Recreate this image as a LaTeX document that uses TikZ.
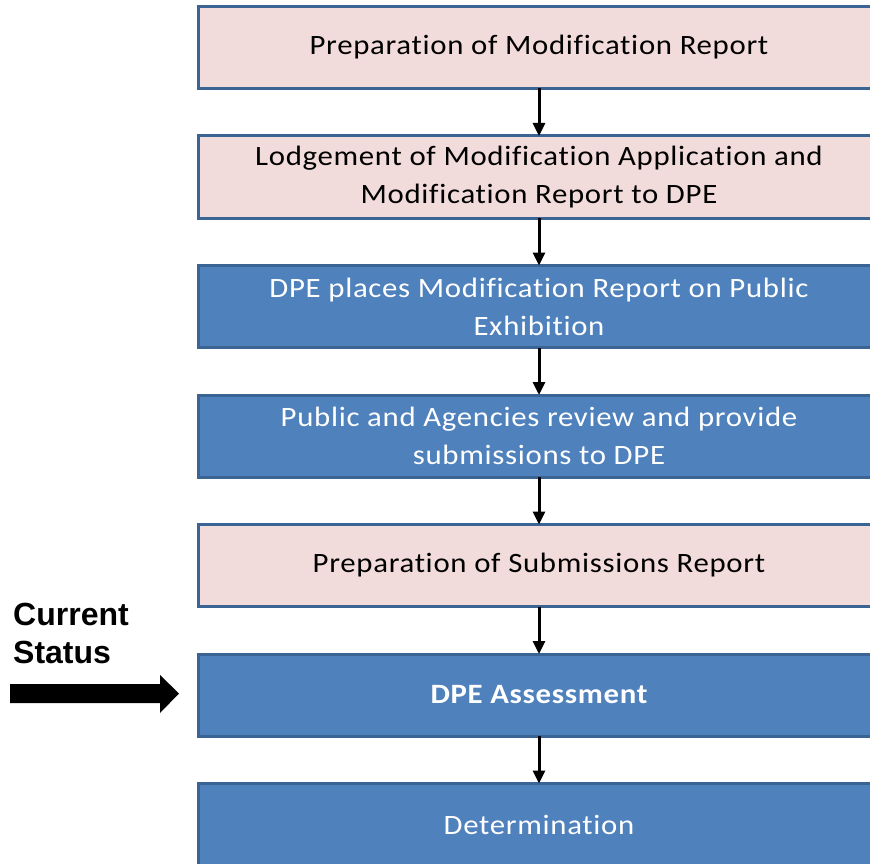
\documentclass[tikz,border=0pt]{standalone}
\usepackage{fontspec}
\setmainfont{Carlito}[FakeStretch=1.1,LetterSpace=2.5,Ligatures=NoCommon]
\newfontfamily\statusfont{Liberation Sans}
\usetikzlibrary{arrows.meta,positioning}
\definecolor{FlowEdge}{HTML}{3A6494}
\definecolor{FlowPink}{HTML}{F2DCDB}
\definecolor{FlowBlue}{HTML}{4F81BD}
\begin{document}
\begin{tikzpicture}[x=1pt,y=-1pt,
    stage/.style={draw=FlowEdge,line width=3pt,outer sep=0pt,
      minimum width=682pt,minimum height=82pt,align=center,
      font=\fontsize{28}{38}\selectfont},
    pinkstage/.style={stage,fill=FlowPink,text=black},
    bluestage/.style={stage,fill=FlowBlue,text=white},
    flow/.style={line width=3pt,-{Triangle[length=13pt,width=12pt]}}]
        \useasboundingbox (0,0) rectangle (870,864);
        \clip (0,0) rectangle (870,864);

        \node[pinkstage] (prep) at (539,47.5) {Preparation of Modification Report};
        \node[pinkstage,below=47.5pt of prep] (lodge)
          {Lodgement of Modification Application and\\Modification Report to DPE};
        \node[bluestage,below=47.5pt of lodge] (exhibit)
          {DPE places Modification Report on Public\\Exhibition};
        \node[bluestage,below=47.5pt of exhibit] (review)
          {Public and Agencies review and provide\\submissions to DPE};
        \node[pinkstage,below=47.5pt of review] (subrep) {Preparation of Submissions Report};
        \node[bluestage,below=47.5pt of subrep] (assess) {\bfseries DPE Assessment};
        \node[bluestage,below=47.5pt of assess] (determ) {Determination};

        \draw[flow] (prep) -- (lodge);
        \draw[flow] (lodge) -- (exhibit);
        \draw[flow] (exhibit) -- (review);
        \draw[flow] (review) -- (subrep);
        \draw[flow] (subrep) -- (assess);
        \draw[flow] (assess) -- (determ);

        % current status marker
        \node[anchor=north west,align=left,inner sep=0pt,
          font=\statusfont\bfseries\fontsize{32}{38}\selectfont] (status)
          at (13,603) {Current\\Status};
        \fill[black] (10,684) -- (160,684) -- (160,675) -- (179,693.5)
          -- (160,713) -- (160,703) -- (10,703) -- cycle;
\end{tikzpicture}
\end{document}
